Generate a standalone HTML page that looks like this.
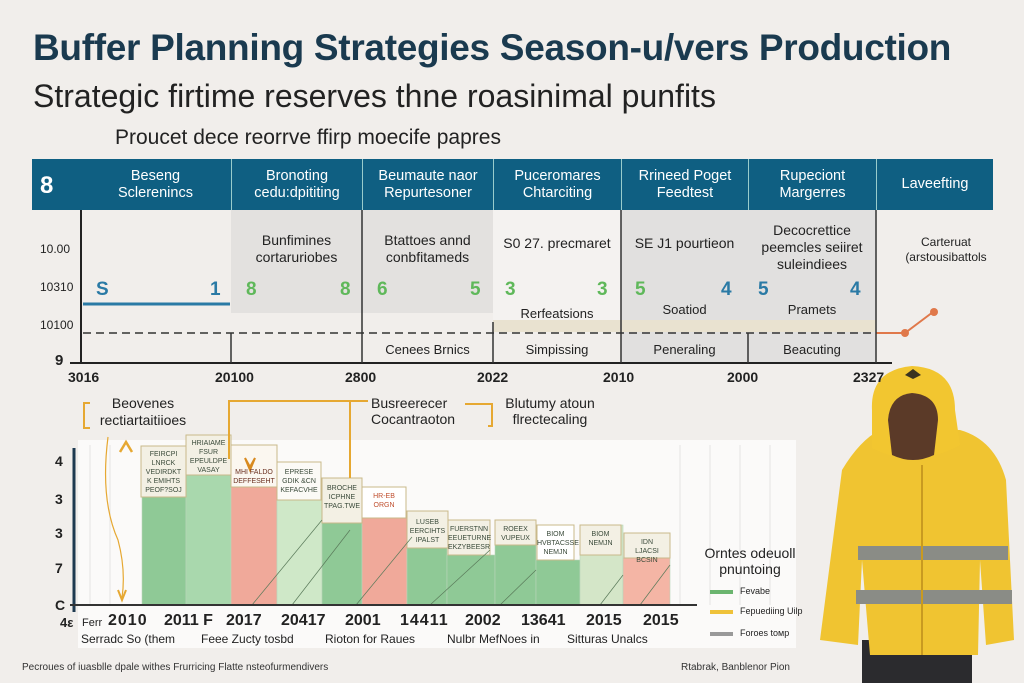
<!DOCTYPE html>
<html><head><meta charset="utf-8"><style>
*{margin:0;padding:0;box-sizing:border-box}
body{width:1024px;height:683px;background:#f1eeeb;font-family:"Liberation Sans",sans-serif;position:relative;overflow:hidden;color:#222}
.a{position:absolute;white-space:nowrap}
.hc{position:absolute;top:159px;height:51px;color:#fff;font-size:14.5px;text-align:center;line-height:17px;display:flex;align-items:center;justify-content:center;border-left:1px solid #9cc}
.c{text-align:center}
.t{position:absolute;font-size:7px;text-align:center;line-height:9px;color:#3a4a3a}
</style></head><body>
<div class="a" style="left:33px;top:27px;font-size:37px;font-weight:bold;color:#1a3a4f;letter-spacing:-0.3px">Buffer Planning Strategies Season-u/vers Production</div>
<div class="a" style="left:33px;top:78px;font-size:32px;color:#222">Strategic firtime reserves thne roasinimal punfits</div>
<div class="a" style="left:115px;top:126px;font-size:21px;color:#222">Proucet dece reorrve ffirp moecife papres</div>

<div class="a" style="left:32px;top:159px;width:961px;height:51px;background:#0f5f82"></div>
<div class="a" style="left:40px;top:172px;font-size:24px;font-weight:bold;color:#fff">8</div>
<div class="hc" style="left:80px;width:151px;border:none">Beseng<br>Sclerenincs</div>
<div class="hc" style="left:231px;width:131px">Bronoting<br>cedu:dpititing</div>
<div class="hc" style="left:362px;width:131px">Beumaute naor<br>Repurtesoner</div>
<div class="hc" style="left:493px;width:128px">Puceromares<br>Chtarciting</div>
<div class="hc" style="left:621px;width:127px">Rrineed Poget<br>Feedtest</div>
<div class="hc" style="left:748px;width:128px">Rupeciont<br>Margerres</div>
<div class="hc" style="left:876px;width:117px">Laveefting</div>

<svg class="a" style="left:0;top:0" width="1024" height="683">
<rect x="231" y="210" width="262" height="103" fill="#e3e1df"/>
<rect x="493" y="210" width="128" height="110" fill="#f4f2f0"/>
<rect x="621" y="210" width="255" height="153" fill="#e1e0df"/>
<rect x="493" y="320" width="383" height="12" fill="#e9e2d0"/>
<line x1="81" y1="210" x2="81" y2="364" stroke="#222" stroke-width="2"/>
<line x1="70" y1="363" x2="892" y2="363" stroke="#222" stroke-width="2"/>
<line x1="83" y1="304" x2="230" y2="304" stroke="#2a7aa5" stroke-width="3"/>
<line x1="83" y1="333" x2="876" y2="333" stroke="#333" stroke-width="1.5" stroke-dasharray="8,5"/>
<polyline points="876,333 905,333 933,312" fill="none" stroke="#e0784a" stroke-width="2"/>
<circle cx="905" cy="333" r="4" fill="#e0784a"/><circle cx="934" cy="312" r="4" fill="#e0784a"/>
<g stroke="#333" stroke-width="1.5">
<line x1="231" y1="333" x2="231" y2="363"/><line x1="362" y1="210" x2="362" y2="363"/>
<line x1="493" y1="322" x2="493" y2="363"/><line x1="621" y1="210" x2="621" y2="363"/>
<line x1="748" y1="333" x2="748" y2="363"/><line x1="876" y1="210" x2="876" y2="363"/>
</g>
<rect x="78" y="440" width="718" height="208" fill="#fbfaf9"/>
<g stroke="#e6e4e2" stroke-width="1">
<line x1="90" y1="445" x2="90" y2="605"/><line x1="110" y1="445" x2="110" y2="605"/>
<line x1="680" y1="445" x2="680" y2="605"/><line x1="710" y1="445" x2="710" y2="605"/><line x1="740" y1="445" x2="740" y2="605"/><line x1="770" y1="445" x2="770" y2="605"/>
</g>
<g stroke="#b9d6b9" stroke-width="0.6">
<rect x="142" y="497" width="44" height="108" fill="#8fc996"/>
<rect x="186" y="475" width="45" height="130" fill="#a9d8ad"/>
<rect x="231" y="487" width="46" height="118" fill="#f0a99a"/>
<rect x="277" y="500" width="45" height="105" fill="#cfe8c8"/>
<rect x="322" y="523" width="40" height="82" fill="#8fc996"/>
<rect x="362" y="518" width="45" height="87" fill="#f0a99a"/>
<rect x="407" y="547" width="40" height="58" fill="#8fc996"/>
<rect x="447" y="555" width="48" height="50" fill="#8fc996"/>
<rect x="495" y="545" width="41" height="60" fill="#8fc996"/>
<rect x="536" y="560" width="44" height="45" fill="#8fc996"/>
<rect x="580" y="525" width="43" height="80" fill="#d4e6c8"/>
<rect x="623" y="558" width="47" height="47" fill="#f4b5a5"/>
</g>
<g fill="#f3f0e4" stroke="#c9b98a" stroke-width="1">
<rect x="141" y="446" width="45" height="51"/><rect x="186" y="435" width="45" height="40"/>
<rect x="231" y="445" width="46" height="42" fill="#fbf7f0"/><rect x="277" y="462" width="44" height="38" fill="#fbfaf6"/>
<rect x="322" y="478" width="40" height="45"/><rect x="362" y="487" width="44" height="31" fill="#fff"/>
<rect x="407" y="511" width="41" height="37"/><rect x="448" y="520" width="42" height="35"/>
<rect x="495" y="520" width="41" height="25"/><rect x="537" y="525" width="37" height="35" fill="#fff"/>
<rect x="580" y="525" width="41" height="30"/><rect x="624" y="533" width="46" height="25"/>
</g>
<g stroke="#5a7a5a" stroke-width="0.7">
<line x1="252" y1="605" x2="322" y2="520"/><line x1="292" y1="605" x2="350" y2="530"/><line x1="356" y1="605" x2="412" y2="537"/><line x1="430" y1="605" x2="490" y2="550"/><line x1="500" y1="605" x2="536" y2="570"/><line x1="600" y1="605" x2="623" y2="575"/><line x1="640" y1="605" x2="670" y2="565"/>
</g>
<line x1="74" y1="448" x2="74" y2="612" stroke="#1e3a50" stroke-width="3"/>
<line x1="70" y1="605" x2="697" y2="605" stroke="#333" stroke-width="2"/>
<path d="M108 437 Q100 500 118 540 Q126 570 122 598" fill="none" stroke="#e6a832" stroke-width="1.2"/>
<path d="M120 452 L126 442 L132 452" fill="none" stroke="#e6a832" stroke-width="2.5"/>
<path d="M118 590 L122 600 L126 590" fill="none" stroke="#e6a832" stroke-width="2"/>
<path d="M245 458 L250 467 L255 458 L250 470 Z" fill="#e6a832" stroke="#d88a20" stroke-width="2"/>
<g fill="none" stroke="#e6a832" stroke-width="2">
<path d="M90 403 L84 403 L84 428 L90 428"/>
<path d="M229 459 L229 401 L350 401 M350 401 L350 478 M350 401 L368 401"/>
<path d="M465 404 L492 404 L492 426 L488 426"/>
</g>
<g stroke-width="4"><line x1="710" y1="592" x2="733" y2="592" stroke="#6bb56f"/><line x1="710" y1="612" x2="733" y2="612" stroke="#efc23a"/><line x1="710" y1="634" x2="733" y2="634" stroke="#999"/></g>
<rect x="862" y="640" width="110" height="43" fill="#2b2b2e"/>
<path d="M880 430 Q860 440 842 470 L820 640 L858 645 L862 560 L870 655 L978 655 L980 560 L986 645 L1014 640 L1006 480 Q995 440 960 430 Z" fill="#f0c431"/>
<path d="M872 410 Q870 370 912 366 Q955 368 955 410 L960 445 Q915 470 872 448 Z" fill="#f2c630"/>
<path d="M888 420 Q890 395 912 393 Q938 395 938 420 L934 455 Q913 465 892 455 Z" fill="#5b3a28"/>
<rect x="858" y="546" width="150" height="14" fill="#8a8c86"/>
<rect x="856" y="590" width="156" height="14" fill="#8a8c86"/>
<line x1="922" y1="465" x2="922" y2="655" stroke="#c99a20" stroke-width="2"/>
<path d="M905 375 l8 -6 l8 6 l-8 4 z" fill="#3a3320"/>
</svg>

<div class="t" style="left:141px;top:450px;width:45px">FEIRCPI<br>LNRCK<br>VEDIRDKT<br>K EMIHTS<br>PEOF?SOJ</div>
<div class="t" style="left:186px;top:439px;width:45px">HRIAIAME<br>FSUR<br>EPEULDPE<br>VASAY</div>
<div class="t" style="left:231px;top:468px;width:46px;color:#6a3020">MHI FALDO<br>DEFFESEHT</div>
<div class="t" style="left:277px;top:468px;width:44px">EPRESE<br>GDIK &amp;CN<br>KEFACVHE</div>
<div class="t" style="left:322px;top:484px;width:40px">BROCHE<br>ICPHNE<br>TPAG.TWE</div>
<div class="t" style="left:362px;top:492px;width:44px;color:#c05030">HR-EB<br>ORGN</div>
<div class="t" style="left:407px;top:518px;width:41px">LUSEB<br>EERCIHTS<br>IPALST</div>
<div class="t" style="left:448px;top:525px;width:42px">FUERSTNN<br>EEUETURNE<br>EKZYBEESR</div>
<div class="t" style="left:495px;top:525px;width:41px">ROEEX<br>VUPEUX</div>
<div class="t" style="left:537px;top:530px;width:37px">BIOM<br>HVBTACSSE<br>NEMJN</div>
<div class="t" style="left:580px;top:530px;width:41px">BIOM<br>NEMJN</div>
<div class="t" style="left:624px;top:538px;width:46px">IDN<br>LJACSI BCSIN</div>

<div class="a" style="left:40px;top:242px;font-size:12px">10.00</div>
<div class="a" style="left:40px;top:280px;font-size:12px">10310</div>
<div class="a" style="left:40px;top:318px;font-size:12px">10100</div>
<div class="a" style="left:55px;top:352px;font-size:15px;font-weight:bold">9</div>
<div class="a" style="left:68px;top:369px;font-size:14px;font-weight:bold">3016</div>
<div class="a" style="left:215px;top:369px;font-size:14px;font-weight:bold">20100</div>
<div class="a" style="left:345px;top:369px;font-size:14px;font-weight:bold">2800</div>
<div class="a" style="left:477px;top:369px;font-size:14px;font-weight:bold">2022</div>
<div class="a" style="left:603px;top:369px;font-size:14px;font-weight:bold">2010</div>
<div class="a" style="left:727px;top:369px;font-size:14px;font-weight:bold">2000</div>
<div class="a" style="left:853px;top:369px;font-size:14px;font-weight:bold">2327</div>

<div class="a c" style="left:231px;width:131px;top:232px;font-size:14px;line-height:17px">Bunfimines<br>cortaruriobes</div>
<div class="a c" style="left:362px;width:131px;top:232px;font-size:14px;line-height:17px">Btattoes annd<br>conbfitameds</div>
<div class="a c" style="left:493px;width:128px;top:235px;font-size:14px">S0 27. precmaret</div>
<div class="a c" style="left:621px;width:127px;top:235px;font-size:14px">SE J1 pourtieon</div>
<div class="a c" style="left:748px;width:128px;top:222px;font-size:14px;line-height:17px">Decocrettice<br>peemcles seiiret<br>suleindiees</div>
<div class="a c" style="left:876px;width:140px;top:235px;font-size:12px;line-height:15px">Carteruat<br>(arstousibattols</div>

<div class="a" style="left:96px;top:279px;font-size:19px;font-weight:bold;color:#2a7aa5">S</div>
<div class="a" style="left:210px;top:279px;font-size:19px;font-weight:bold;color:#2a7aa5">1</div>
<div class="a" style="left:246px;top:279px;font-size:19px;font-weight:bold;color:#5fb85a">8</div>
<div class="a" style="left:340px;top:279px;font-size:19px;font-weight:bold;color:#5fb85a">8</div>
<div class="a" style="left:377px;top:279px;font-size:19px;font-weight:bold;color:#5fb85a">6</div>
<div class="a" style="left:470px;top:279px;font-size:19px;font-weight:bold;color:#5fb85a">5</div>
<div class="a" style="left:505px;top:279px;font-size:19px;font-weight:bold;color:#5fb85a">3</div>
<div class="a" style="left:597px;top:279px;font-size:19px;font-weight:bold;color:#5fb85a">3</div>
<div class="a" style="left:635px;top:279px;font-size:19px;font-weight:bold;color:#5fb85a">5</div>
<div class="a" style="left:721px;top:279px;font-size:19px;font-weight:bold;color:#2a7aa5">4</div>
<div class="a" style="left:758px;top:279px;font-size:19px;font-weight:bold;color:#2a7aa5">5</div>
<div class="a" style="left:850px;top:279px;font-size:19px;font-weight:bold;color:#2a7aa5">4</div>
<div class="a c" style="left:493px;width:128px;top:306px;font-size:13px">Rerfeatsions</div>
<div class="a c" style="left:621px;width:127px;top:302px;font-size:13px">Soatiod</div>
<div class="a c" style="left:748px;width:128px;top:302px;font-size:13px">Pramets</div>
<div class="a c" style="left:362px;width:131px;top:342px;font-size:13px">Cenees Brnics</div>
<div class="a c" style="left:493px;width:128px;top:342px;font-size:13px">Simpissing</div>
<div class="a c" style="left:621px;width:127px;top:342px;font-size:13px">Peneraling</div>
<div class="a c" style="left:748px;width:128px;top:342px;font-size:13px">Beacuting</div>

<div class="a c" style="left:88px;width:110px;top:395px;font-size:14px;line-height:17px">Beovenes<br>rectiartaitiioes</div>
<div class="a" style="left:371px;top:395px;font-size:14px;line-height:16px">Busreerecer<br>Cocantraoton</div>
<div class="a c" style="left:500px;width:100px;top:395px;font-size:14px;line-height:16px">Blutumy atoun<br>flrectecaling</div>

<div class="a" style="left:55px;top:453px;font-size:14px;font-weight:bold">4</div>
<div class="a" style="left:55px;top:491px;font-size:14px;font-weight:bold">3</div>
<div class="a" style="left:55px;top:525px;font-size:14px;font-weight:bold">3</div>
<div class="a" style="left:55px;top:560px;font-size:14px;font-weight:bold">7</div>
<div class="a" style="left:55px;top:597px;font-size:14px;font-weight:bold">C</div>
<div class="a" style="left:60px;top:615px;font-size:13px;font-weight:bold">4ε</div>
<div class="a" style="left:82px;top:617px;font-size:11px">Ferr</div>
<div class="a" style="left:108px;top:612px;font-size:16px;font-weight:bold;letter-spacing:1px">2010</div>
<div class="a" style="left:164px;top:612px;font-size:16px;font-weight:bold">2011 F</div>
<div class="a" style="left:226px;top:612px;font-size:16px;font-weight:bold">2017</div>
<div class="a" style="left:281px;top:612px;font-size:16px;font-weight:bold">20417</div>
<div class="a" style="left:345px;top:612px;font-size:16px;font-weight:bold">2001</div>
<div class="a" style="left:400px;top:612px;font-size:16px;font-weight:bold;letter-spacing:1px">14411</div>
<div class="a" style="left:465px;top:612px;font-size:16px;font-weight:bold">2002</div>
<div class="a" style="left:521px;top:612px;font-size:16px;font-weight:bold">13641</div>
<div class="a" style="left:586px;top:612px;font-size:16px;font-weight:bold">2015</div>
<div class="a" style="left:643px;top:612px;font-size:16px;font-weight:bold">2015</div>
<div class="a" style="left:81px;top:632px;font-size:12px">Serradc So (them</div>
<div class="a" style="left:201px;top:632px;font-size:12px">Feee Zucty tosbd</div>
<div class="a" style="left:325px;top:632px;font-size:12px">Rioton for Raues</div>
<div class="a" style="left:447px;top:632px;font-size:12px">Nulbr MefNoes in</div>
<div class="a" style="left:567px;top:632px;font-size:12px">Sitturas Unalcs</div>

<div class="a c" style="left:700px;width:100px;top:545px;font-size:14px;line-height:16px">Orntes odeuoll<br>pnuntoing</div>
<div class="a" style="left:740px;top:586px;font-size:9px">Fevabe</div>
<div class="a" style="left:740px;top:606px;font-size:9px">Fepuediing Uilp</div>
<div class="a" style="left:740px;top:628px;font-size:9px">Foroes toмp</div>

<div class="a" style="left:22px;top:662px;font-size:10px;color:#333">Pecroues of iuasblle dpale withes Frurricing Flatte nsteofurmendivers</div>
<div class="a" style="left:681px;top:662px;font-size:10px;color:#333">Rtabrak, Banblenor Pion</div>
</body></html>
